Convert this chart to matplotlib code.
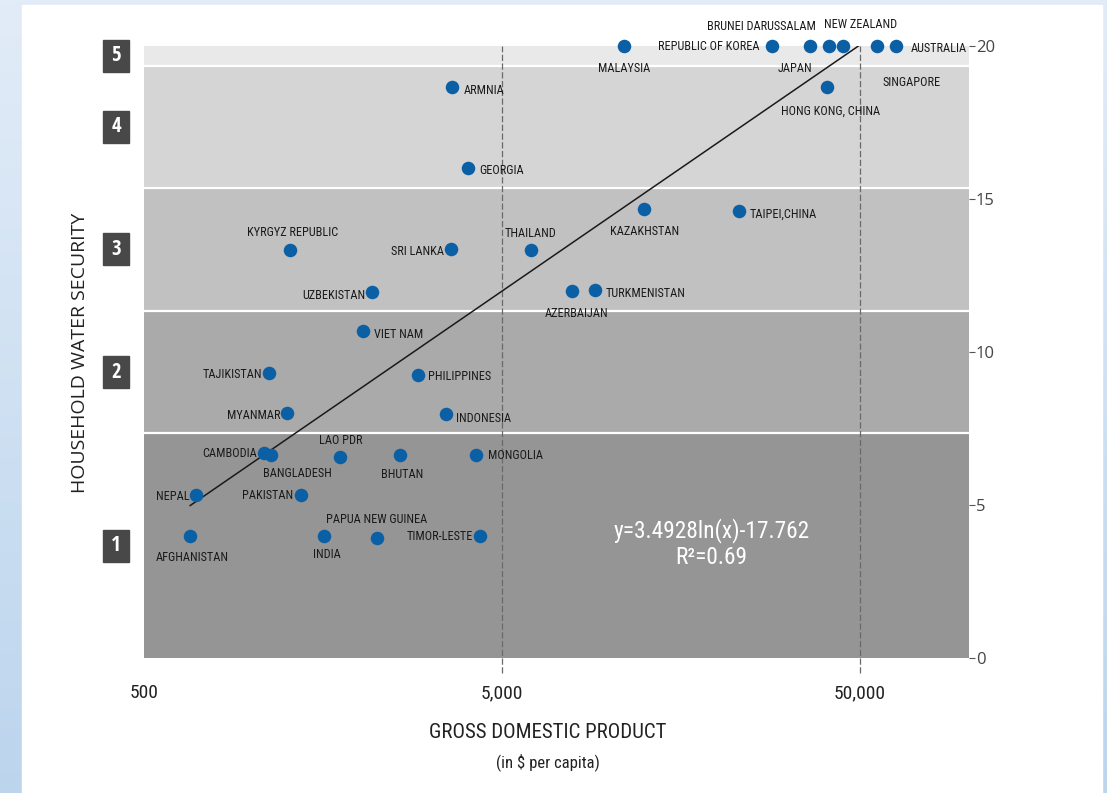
import matplotlib
matplotlib.use('Agg')
import matplotlib.pyplot as plt
import numpy as np
from matplotlib.patches import Rectangle
from matplotlib.transforms import blended_transform_factory
from matplotlib import font_manager
from matplotlib.font_manager import FontProperties
from matplotlib.colors import LinearSegmentedColormap

# ---------------- data ----------------
countries = ["MALAYSIA", "REPUBLIC OF KOREA", "JAPAN", "BRUNEI DARUSSALAM", "NEW ZEALAND",
             "SINGAPORE", "AUSTRALIA", "HONG KONG, CHINA", "KAZAKHSTAN", "TAIPEI,CHINA",
             "THAILAND", "AZERBAIJAN", "TURKMENISTAN", "ARMNIA", "GEORGIA", "KYRGYZ REPUBLIC",
             "SRI LANKA", "UZBEKISTAN", "VIET NAM", "TAJIKISTAN", "PHILIPPINES", "MYANMAR",
             "INDONESIA", "CAMBODIA", "BANGLADESH", "LAO PDR", "BHUTAN", "MONGOLIA", "NEPAL",
             "PAKISTAN", "AFGHANISTAN", "INDIA", "PAPUA NEW GUINEA", "TIMOR-LESTE"]
gdp = [11000, 28400, 36200, 40900, 44900,
       56000, 63200, 40600, 12500, 23000,
       6020, 7870, 9080, 3620, 4020, 1280,
       3610, 2170, 2040, 1120, 2920, 1256,
       3500, 1080, 1130, 1770, 2600, 4220, 700,
       1375, 673, 1590, 2240, 4355]
security = [20.0, 20.0, 20.0, 20.0, 20.0,
            20.0, 20.0, 18.67, 14.67, 14.6,
            13.33, 12.0, 12.04, 18.67, 16.0, 13.33,
            13.37, 11.95, 10.67, 9.33, 9.26, 8.0,
            7.97, 6.69, 6.64, 6.58, 6.64, 6.64, 5.33,
            5.34, 4.0, 4.0, 3.93, 4.0]

trend_a = 3.4928
trend_b = -17.762
trend_end = 50000
r_squared = 0.69

band_edges = [0, 7.34, 11.35, 15.37, 19.36, 20]
band_names = ["1", "2", "3", "4", "5"]
x_ticks = [500, 5000, 50000]
x_tick_labels = ["500", "5,000", "50,000"]
y_ticks = [0, 5, 10, 15, 20]

# ---------------- styling / layout ----------------
band_colors = ["#959596", "#aaaaab", "#c1c1c2", "#d5d5d5", "#e9e9e9"]
point_color = "#0b5fa5"

# label offsets in pixels (dx, dy, ha)
label_pos = {
    "MALAYSIA": (0, -22, "center"), "REPUBLIC OF KOREA": (-12, -1, "right"),
    "JAPAN": (-15, -23, "center"), "BRUNEI DARUSSALAM": (-67, 20, "center"),
    "NEW ZEALAND": (18, 21, "center"), "SINGAPORE": (34, -36, "center"),
    "AUSTRALIA": (15, -2, "left"), "HONG KONG, CHINA": (3, -25, "center"),
    "KAZAKHSTAN": (0, -22, "center"), "TAIPEI,CHINA": (11, -3, "left"),
    "THAILAND": (0, 17, "center"), "AZERBAIJAN": (4, -23, "center"),
    "TURKMENISTAN": (11, -4, "left"), "ARMNIA": (12, -4, "left"),
    "GEORGIA": (11, -2, "left"), "KYRGYZ REPUBLIC": (3, 18, "center"),
    "SRI LANKA": (-7, -3, "right"), "UZBEKISTAN": (-7, -3, "right"),
    "VIET NAM": (11, -3, "left"), "TAJIKISTAN": (-7, -2, "right"),
    "PHILIPPINES": (10, -2, "left"), "MYANMAR": (-7, -2, "right"),
    "INDONESIA": (10, -4, "left"), "CAMBODIA": (-7, 0, "right"),
    "BANGLADESH": (27, -19, "center"), "LAO PDR": (0, 16, "center"),
    "BHUTAN": (2, -20, "center"), "MONGOLIA": (12, -1, "left"),
    "NEPAL": (-7, -2, "right"), "PAKISTAN": (-8, -1, "right"),
    "AFGHANISTAN": (2, -22, "center"), "INDIA": (3, -19, "center"),
    "PAPUA NEW GUINEA": (0, 18, "center"), "TIMOR-LESTE": (-7, -1, "right"),
}

# choose a condensed, non-bold font file
ttf = font_manager.fontManager.ttflist
cond_file = None
for nm in ["Open Sans Condensed", "Liberation Sans Narrow", "Roboto Condensed"]:
    cands = [f for f in ttf if f.name == nm and f.style == "normal"]
    if cands:
        light = [f for f in cands if (f.weight if isinstance(f.weight, int) else 400) < 600]
        if light:
            cond_file = sorted(light, key=lambda f: abs((f.weight if isinstance(f.weight, int) else 400) - 400))[0].fname
            break
REG = "Open Sans" if any(f.name == "Open Sans" for f in ttf) else "DejaVu Sans"


def cfp(size, bold=False):
    if cond_file is not None and not bold:
        return FontProperties(fname=cond_file, size=size)
    if bold:
        return FontProperties(family=["Open Sans Condensed", "DejaVu Sans"], weight="bold", size=size)
    return FontProperties(family="DejaVu Sans", stretch="condensed", size=size)


W, H = 1107, 793
fig = plt.figure(figsize=(W / 100, H / 100), dpi=100)

# background gradient + white panel
bg = fig.add_axes([0, 0, 1, 1], zorder=-10)
cmap = LinearSegmentedColormap.from_list("bgg", ["#e2ecf8", "#bcd5ed"])
bg.imshow(np.linspace(0, 1, 256).reshape(-1, 1), aspect="auto", cmap=cmap,
          extent=[0, 1, 0, 1], origin="upper")
bg.add_patch(Rectangle((22 / W, 0), (1102 - 22) / W, 1 - 5 / H, color="white",
                       transform=bg.transAxes))
bg.set_xlim(0, 1); bg.set_ylim(0, 1)
bg.axis("off")

ax = fig.add_axes([144 / W, 1 - 658 / H, (969 - 144) / W, (658 - 46) / H])
ax.set_xscale("log")
ax.set_xlim(500, 101000)
ax.set_ylim(0, 20)
for s in ax.spines.values():
    s.set_visible(False)

for i in range(5):
    ax.axhspan(band_edges[i], band_edges[i + 1], color=band_colors[i], lw=0, zorder=0)
for e in band_edges[1:-1]:
    ax.axhline(e, color="white", lw=1.6, zorder=1)

for xv in x_ticks[1:]:
    ax.axvline(xv, ymin=-0.025, ymax=1, color="#6a6a6a", lw=0.9, ls=(0, (5, 2)),
               clip_on=False, zorder=2)

xs = np.geomspace(min(gdp), trend_end, 200)
ax.plot(xs, trend_a * np.log(xs) + trend_b, color="#1a1a1a", lw=1.1, zorder=3)

ax.scatter(gdp, security, s=95, color=point_color, zorder=4, linewidths=0, clip_on=False)

for name, xv, yv in zip(countries, gdp, security):
    dx, dy, ha = label_pos[name]
    ax.annotate(name, (xv, yv), xytext=(dx, dy), textcoords="offset pixels",
                ha=ha, va="center", fontproperties=cfp(8.8), color="#1a1a1a", zorder=5,
                annotation_clip=False)

# band number boxes
trans = blended_transform_factory(ax.transAxes, ax.transData)
bw = 26 / (969 - 144)
bh = 32 / 30.6
for i, nm in enumerate(band_names):
    yc = (band_edges[i] + band_edges[i + 1]) / 2
    xc = (116 - 144) / (969 - 144)
    ax.add_patch(Rectangle((xc - bw / 2, yc - bh / 2), bw, bh, transform=trans,
                           color="#484848", clip_on=False, zorder=6))
    ax.text(xc, yc, nm, transform=trans, ha="center", va="center", color="white",
            fontproperties=cfp(15, bold=True), zorder=7)

# axes ticks
ax.set_xticks(x_ticks)
ax.set_xticklabels(x_tick_labels)
ax.xaxis.set_minor_locator(matplotlib.ticker.NullLocator())
ax.tick_params(axis="x", length=0, pad=19, labelcolor="#222222")
for t in ax.get_xticklabels():
    t.set_fontproperties(cfp(14))

ax.yaxis.tick_right()
ax.set_yticks(y_ticks)
ax.tick_params(axis="y", direction="out", length=4, width=0.8, color="#555555",
               pad=1, labelsize=12, labelcolor="#444444")
for t in ax.get_yticklabels():
    t.set_family(REG)

# equation
ax.text(0.688, 4.15, "y=3.4928ln(x)-17.762", transform=trans, ha="center", va="center",
        color="white", fontproperties=cfp(16.8), zorder=6)
ax.text(0.688, 3.3, "R\u00b2=%.2f" % r_squared, transform=trans, ha="center", va="center",
        color="white", fontproperties=cfp(16.8), zorder=6)

# axis titles
fig.text(80 / W, 1 - 353 / H, "HOUSEHOLD WATER SECURITY", rotation=90, ha="center",
         va="center", fontsize=14, color="#222222", family=REG)
fig.text(548 / W, 1 - 733 / H, "GROSS DOMESTIC PRODUCT", ha="center", va="center",
         fontproperties=cfp(15), color="#222222")
fig.text(548 / W, 1 - 762 / H, "(in $ per capita)", ha="center", va="center",
         fontproperties=cfp(12), color="#222222")

fig.savefig("out.png", dpi=100)
